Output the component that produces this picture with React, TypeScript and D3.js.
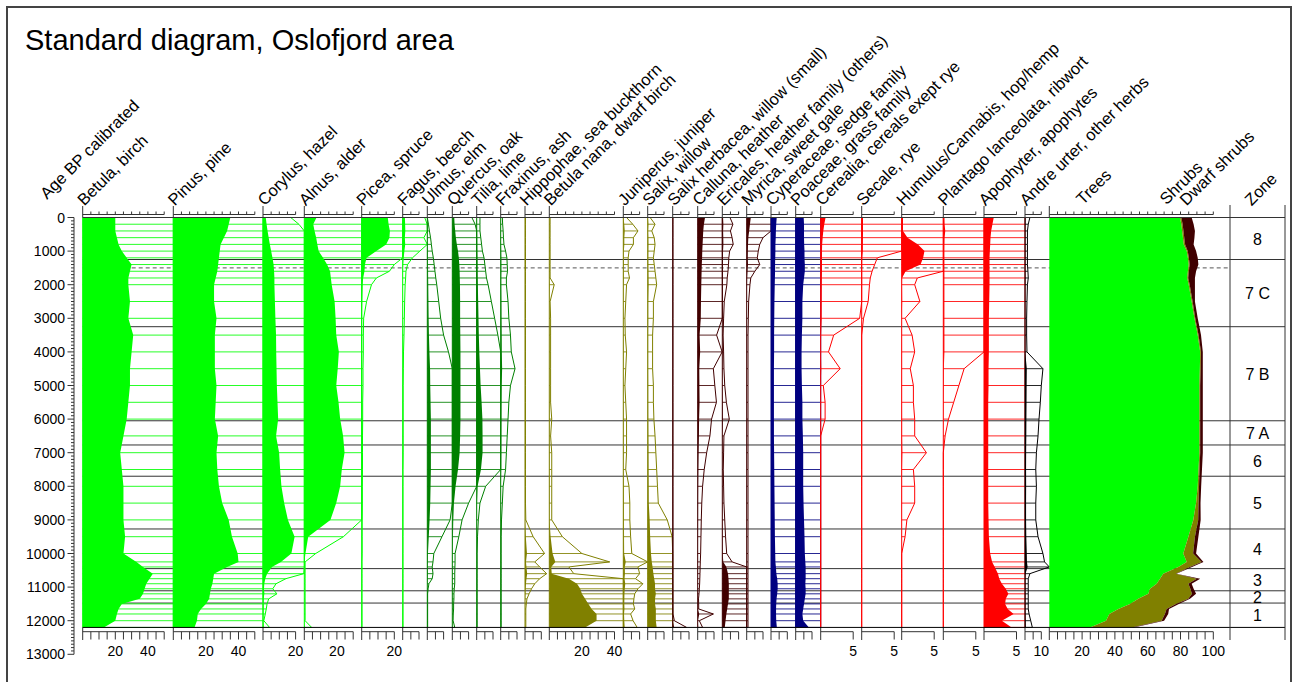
import React from 'react'
import * as d3 from 'd3'

// sample levels, calibrated years BP
const ages = [
  0, 200, 400, 600, 800, 1000, 1200, 1400, 1600, 1800,
  2000, 2500, 3000, 3500, 4000, 4500, 5000, 5500, 6000, 6500,
  7000, 7500, 8000, 8500, 9000, 9500, 10000, 10250, 10400, 10600,
  10750, 10900, 11050, 11200, 11350, 11500, 11650, 11800, 12000, 12200,
]

// pollen percentages per sample
const betula = [
  20, 20, 20, 21, 22, 24, 27, 30, 29, 28,
  28, 29, 28, 31, 30, 29, 29, 28, 27, 25,
  23, 24, 25, 25, 25, 26, 25, 33, 37, 43,
  41, 39, 38, 37, 35, 24, 22, 21, 20, 13,
]
const pinus = [
  35, 34, 33, 31, 29, 28.5, 28, 27.5, 27, 26,
  25, 25, 26.5, 25.5, 25.5, 25.5, 26.5, 26, 25.5, 27.5,
  26.5, 27, 28, 30, 34, 36, 39.5, 40, 33, 25,
  24.5, 24, 23, 22.5, 22, 20, 17, 15, 14.5, 13,
]
const corylus = [
  1.7, 2.2, 2.8, 3.5, 4.2, 5, 5.8, 6.5, 6.8, 7,
  7, 7.3, 7.6, 8, 8.1, 8.3, 8.5, 8.9, 9.3, 8,
  9.9, 10.5, 11.3, 13, 15.3, 19.4, 17.4, 11, 5.5, 2.5,
  1.4, 0.8, 0.6, 0.85, 0.35, 0.25, 0.2, 0.14, 0.05, 0.4,
]
const alnus = [
  7.5, 5.5, 6.3, 7.3, 8, 8.8, 11.5, 14, 15.8, 16.3,
  16.8, 18.6, 19.2, 19.6, 21.2, 20.5, 19.6, 21, 22, 23.8,
  24.7, 23, 22, 19.6, 16, 2.4, 0.7, 0.05, 0.05, 0.05,
  0.05, 0.05, 0.05, 0.05, 0.05, 0.05, 0.05, 0.05, 0.05, 0.45,
]
const picea = [
  16, 16.5, 17.3, 17, 15, 9, 3, 2, 1.7, 0.9,
  0.6, 0.3, 0.12, 0.1, 0.1, 0.08, 0.08, 0.06, 0.06, 0.05,
  0.05, 0.05, 0.04, 0.04, 0.03, 0.03, 0.03, 0.02, 0.02, 0.02,
  0.02, 0.02, 0.02, 0.02, 0.02, 0.02, 0.02, 0.02, 0.02, 0.02,
]
const fagus = [
  1.35, 1.5, 1.6, 1.3, 1.55, 1.05, 0.6, 0.3, 0.2, 0.18,
  0.15, 0.12, 0.1, 0.08, 0.05, 0.04, 0.03, 0.03, 0.03, 0.03,
  0.03, 0.02, 0.02, 0.02, 0.02, 0.02, 0.02, 0.02, 0.02, 0.02,
  0.02, 0.02, 0.02, 0.02, 0.02, 0.02, 0.02, 0.02, 0.02, 0.02,
]
const ulmus = [
  0, 0.07, 0.13, 0.2, 0.25, 0.3, 0.37, 0.42, 0.47, 0.52,
  0.58, 0.7, 0.82, 1.0, 1.3, 1.7, 1.8, 2.0, 2.2, 2.2,
  2.2, 2.2, 2.0, 1.8, 1.4, 0.9, 0.4, 0.35, 0.3, 0.35,
  0.3, 0.1, 0.05, 0.02, 0.02, 0.02, 0.02, 0.02, 0.02, 0.02,
]
const quercus = [
  1.2, 1.4, 1.8, 2.2, 2.8, 3.5, 4, 4.3, 4.5, 4.6,
  4.7, 4.8, 4.8, 4.9, 5, 5, 5, 5, 5, 4.8,
  4.5, 3.5, 2.0, 1.0, 0.6, 0.4, 0.17, 0.17, 0.16, 0.15,
  0.15, 0.15, 0.12, 0.1, 0.1, 0.08, 0.08, 0.06, 0.05, 0.15,
]
const tilia = [
  0.2, 0.2, 0.2, 0.25, 0.3, 0.35, 0.45, 0.5, 0.55, 0.6,
  0.7, 0.9, 1.1, 1.3, 1.6, 2, 2.4, 3, 3.5, 3.6,
  3.6, 2.6, 0.55, 0.2, 0.1, 0.05, 0.03, 0.03, 0.03, 0.03,
  0.03, 0.03, 0.03, 0.03, 0.03, 0.03, 0.03, 0.03, 0.03, 0.03,
]
const fraxinus = [
  0.1, 0.12, 0.15, 0.17, 0.2, 0.3, 0.38, 0.4, 0.42, 0.35,
  0.35, 0.45, 0.5, 0.6, 0.65, 0.88, 0.6, 0.5, 0.45, 0.4,
  0.35, 0.3, 0.15, 0.1, 0.05, 0.03, 0.03, 0.03, 0.03, 0.03,
  0.03, 0.03, 0.03, 0.03, 0.03, 0.03, 0.03, 0.03, 0.03, 0.03,
]
const hippophae = [
  0.03, 0.03, 0.03, 0.03, 0.03, 0.03, 0.03, 0.03, 0.03, 0.03,
  0.03, 0.03, 0.03, 0.03, 0.03, 0.03, 0.03, 0.03, 0.03, 0.03,
  0.03, 0.03, 0.03, 0.03, 0.05, 0.5, 1.2, 0.6, 0.9, 1.33,
  0.9, 0.6, 0.4, 0.25, 0.12, 0.08, 0.05, 0.05, 0.05, 0.05,
]
const betulaNana = [
  0.05, 0.05, 0.05, 0.05, 0.05, 0.05, 0.05, 0.05, 0.05, 0.05,
  0.3, 0.05, 0.08, 0.08, 0.08, 0.08, 0.08, 0.08, 0.15, 0.08,
  0.15, 0.15, 0.15, 0.15, 0.15, 0.8, 2.0, 3.7, 1.2, 1.5,
  12, 17, 19, 20, 22, 24, 26, 29, 29, 22,
]
const juniperus = [
  0.2, 0.58, 0.9, 0.62, 0.62, 0.35, 0.3, 0.3, 0.3, 0.38,
  0.2, 0.15, 0.1, 0.12, 0.2, 0.15, 0.1, 0.15, 0.2, 0.2,
  0.2, 0.15, 0.35, 0.4, 0.4, 0.45, 0.52, 1.5, 0.9, 1.0,
  0.75, 1.2, 0.9, 0.7, 0.65, 0.62, 0.7, 0.45, 0.6, 0.85,
]
const salix = [
  0.15, 0.45, 0.25, 0.4, 0.45, 0.4, 0.35, 0.4, 0.45, 0.5,
  0.55, 0.35, 0.35, 0.3, 0.3, 0.3, 0.35, 0.35, 0.38, 0.45,
  0.5, 0.55, 0.6, 0.65, 1.2, 1.5, 2.0, 2.5, 3, 3.5,
  4, 4.5, 4.5, 5, 4.5, 4.5, 5, 5, 5, 5.5,
]
const salixHerbacea = [
  0.02, 0.02, 0.02, 0.02, 0.02, 0.02, 0.02, 0.02, 0.02, 0.02,
  0.02, 0.02, 0.02, 0.02, 0.02, 0.02, 0.02, 0.02, 0.02, 0.02,
  0.02, 0.02, 0.02, 0.02, 0.02, 0.02, 0.02, 0.02, 0.02, 0.02,
  0.02, 0.02, 0.02, 0.02, 0.02, 0.02, 0.02, 0.02, 0.1, 0.85,
]
const calluna = [
  4.5, 3.8, 3.4, 3.2, 3.0, 2.8, 2.7, 2.5, 2.4, 2.3,
  2.2, 2.0, 1.9, 1.16, 1.5, 0.96, 1.05, 1.15, 0.85, 0.75,
  0.55, 0.4, 0.3, 0.25, 0.22, 0.2, 0.18, 0.16, 0.15, 0.14,
  0.13, 0.12, 0.1, 0.08, 0.05, 0.06, 0.06, 0.96, 0.1, 0.3,
]
const ericales = [
  0.47, 0.65, 0.5, 0.6, 0.67, 0.45, 0.4, 0.38, 0.35, 0.3,
  0.28, 0.12, 0.08, 0.05, 0.08, 0.1, 0.15, 0.25, 0.43, 0.1,
  0.08, 0.06, 0.08, 0.1, 0.15, 0.2, 0.27, 0.6, 2.5, 3.5,
  3.8, 4, 4, 4, 4, 3.5, 3, 2.5, 2.0, 1.5,
]
const myrica = [
  2.5, 2, 1.5, 1.0, 0.8, 0.71, 0.65, 0.8, 0.5, 0.25,
  0.2, 0.12, 0.1, 0.08, 0.08, 0.08, 0.08, 0.08, 0.08, 0.08,
  0.08, 0.08, 0.08, 0.08, 0.08, 0.08, 0.08, 0.08, 0.08, 0.08,
  0.08, 0.08, 0.08, 0.08, 0.08, 0.08, 0.08, 0.08, 0.08, 0.08,
]
const cyperaceae = [
  3.5, 3.2, 3.0, 2.9, 2.7, 2.7, 2.6, 2.5, 2.5, 2.4,
  2.3, 2.1, 2.0, 1.9, 1.9, 1.8, 1.8, 1.8, 1.8, 1.8,
  1.9, 2.0, 2.1, 2.2, 2.3, 2.4, 2.6, 2.7, 3.0, 3.3,
  3.8, 4.1, 4.1, 3.8, 3.4, 3.2, 3.1, 3.1, 3.2, 3.6,
]
const poaceae = [
  4.9, 5.1, 5.1, 5.1, 5.2, 5.4, 5.4, 5.6, 5.6, 5.1,
  4.6, 4.1, 4.1, 3.8, 3.6, 3.6, 3.8, 4.1, 4.1, 4.4,
  4.6, 4.6, 4.6, 4.8, 5.1, 5.4, 5.6, 5.9, 6.1, 6.1,
  6.1, 5.9, 6.1, 6.1, 5.6, 5.1, 4.6, 4.1, 4.6, 8.1,
]
const cerealia = [
  0.75, 0.55, 0.4, 0.3, 0.22, 0.2, 0.2, 0.2, 0.2, 0.18,
  0.17, 0.16, 0.15, 0.05, 0.03, 0.075, 0.01, 0.017, 0.017, 0,
  0, 0, 0, 0, 0, 0, 0, 0, 0, 0,
  0, 0, 0, 0, 0, 0, 0, 0, 0, 0,
]
const secale = [
  0.2, 0.2, 0.2, 0.19, 0.18, 0.17, 0.06, 0.05, 0.04, 0.033,
  0.03, 0.025, 0.007, 0, 0, 0, 0, 0, 0, 0,
  0, 0, 0, 0, 0, 0, 0, 0, 0, 0,
  0, 0, 0, 0, 0, 0, 0, 0, 0, 0,
]
const humulus = [
  0.2, 0.2, 0.2, 0.9, 2.5, 3.5, 3.3, 2.9, 0.6, 0.06,
  0.05, 0.07, 0.013, 0.04, 0.05, 0.033, 0.045, 0.045, 0.05, 0.05,
  0.095, 0.045, 0.05, 0.05, 0.02, 0.013, 0, 0, 0, 0,
  0, 0, 0, 0, 0, 0, 0, 0, 0, 0,
]
const plantago = [
  0.18, 0.2, 0.3, 0.2, 0.18, 0.17, 0.17, 0.17, 0.17, 0.17,
  0.17, 0.17, 0.17, 0.17, 0.17, 0.08, 0.06, 0.04, 0.02, 0.007,
  0, 0, 0, 0, 0, 0, 0, 0, 0, 0,
  0, 0, 0, 0, 0, 0, 0, 0, 0, 0,
]
const apophyter = [
  1.5, 1.3, 1.1, 1.0, 0.95, 0.9, 0.85, 0.85, 0.85, 0.85,
  0.85, 0.8, 0.75, 0.75, 0.75, 0.7, 0.7, 0.65, 0.65, 0.65,
  0.65, 0.65, 0.65, 0.65, 0.7, 0.75, 0.95, 1.25, 1.65, 2.15,
  2.35, 2.75, 3.35, 3.75, 3.35, 3.25, 3.65, 4.55, 2.75, 4.25,
]
const andreUrter = [
  0.3, 0.2, 0.15, 0.15, 0.15, 0.15, 0.15, 0.15, 0.18, 0.2,
  0.15, 0.12, 0.1, 0.1, 0.12, 1.1, 1.0, 0.94, 0.86, 0.8,
  0.7, 0.66, 0.7, 0.66, 0.66, 0.8, 1.1, 1.2, 1.6, 0.3,
  0.2, 0.2, 0.2, 0.2, 0.2, 0.2, 0.2, 0.25, 0.35, 0.45,
]

// summary groups
const trees = [
  79.7, 80.5, 81, 81.5, 82, 83.8, 84.5, 85, 84.5, 84.1,
  85, 86.8, 88.5, 90.5, 92, 91.8, 91.5, 91.5, 91.5, 91.5,
  91.5, 91, 90.5, 89.5, 87.8, 84.8, 81.7, 83.8, 78.7, 69.5,
  67.5, 65.5, 61.4, 60.4, 54.3, 49.2, 42.1, 36.6, 34.6, 24.8,
]
const shrubs = [
  0.8, 0.8, 0.8, 0.8, 0.8, 0.6, 0.6, 0.6, 0.6, 0.6,
  0.6, 0.6, 0.5, 0.5, 0.5, 0.5, 0.5, 0.5, 0.5, 0.5,
  0.5, 0.6, 0.8, 1.5, 3, 4, 6, 9, 7, 7.7,
  22.4, 19.3, 24.6, 26.6, 30.5, 28, 29.4, 33.9, 33.9, 25.4,
]
const dwarfShrubs = [
  6.3, 6.7, 7, 6.2, 5.2, 5.1, 5.4, 5.3, 4.4, 4.1,
  3.2, 1.4, 1.5, 1.5, 1.1, 1.3, 1.6, 1.6, 1.6, 1.6,
  1.6, 1.5, 1.3, 1.2, 1.5, 2.1, 1.8, 1.2, 1.3, 0.4,
  2.1, 2, 2, 2.5, 1, 1.8, 1.5, 2, 1.5, 1.3,
]

const zoneTops = [0, 1250, 3250, 6050, 6770, 7700, 9270, 10450, 11110, 11475]
const zoneNames = ['8', '7 C', '7 B', '7 A', '6', '5', '4', '3', '2', '1']
const coreBottom = 12200
const dashedAge = 1500

const LIME = '#00ff00'
const GREEN = '#008000'
const OLIVE = '#808000'
const MAROON = '#400000'
const NAVY = '#000080'
const RED = '#ff0000'
const AXIS = '#333333'
const FONT = 'Liberation Sans, Arial, Helvetica, sans-serif'
const LABEL_SIZE = 16.5

type Panel = {
  label: string
  values: number[]
  color: string
  x0: number
  max: number
  step: number
  marks: number[]
  unit: number
  exag: number
}

const P = 1.63
const mk = (label: string, values: number[], color: string, x0: number, max = 10, marks: number[] = [], unit = P, exag = 10, step = 5): Panel =>
  ({ label, values, color, x0, max, step, marks, unit, exag })

const panels: Panel[] = [
  mk('Betula, birch', betula, LIME, 82.7, 50, [20, 40]),
  mk('Pinus, pine', pinus, LIME, 173.3, 50, [20, 40]),
  mk('Corylus, hazel', corylus, LIME, 263, 20, [20]),
  mk('Alnus, alder', alnus, LIME, 304.3, 30, [20]),
  mk('Picea, spruce', picea, LIME, 361.7, 20, [20]),
  mk('Fagus, beech', fagus, LIME, 402.7),
  mk('Ulmus, elm', ulmus, GREEN, 427.3),
  mk('Quercus, oak', quercus, GREEN, 452.3),
  mk('Tilia, lime', tilia, GREEN, 476.7),
  mk('Fraxinus, ash', fraxinus, GREEN, 500.7),
  mk('Hippophae, sea buckthorn', hippophae, OLIVE, 525),
  mk('Betula nana, dwarf birch', betulaNana, OLIVE, 549.3, 40, [20, 40]),
  mk('Juniperus, juniper', juniperus, OLIVE, 623.3),
  mk('Salix, willow', salix, OLIVE, 647.7),
  mk('Salix herbacea, willow (small)', salixHerbacea, MAROON, 672.7),
  mk('Calluna, heather', calluna, MAROON, 697.7),
  mk('Ericales, heather family (others)', ericales, MAROON, 722.3),
  mk('Myrica, sweet gale', myrica, MAROON, 746.7),
  mk('Cyperaceae, sedge family', cyperaceae, NAVY, 771),
  mk('Poaceae, grass family', poaceae, NAVY, 795.7),
  mk('Cerealia, cereals exept rye', cerealia, RED, 820.7, 5, [5], 6.5, 40),
  mk('Secale, rye', secale, RED, 861.7, 5, [5], 6.5, 40),
  mk('Humulus/Cannabis, hop/hemp', humulus, RED, 901.7, 5, [5], 6.5, 40),
  mk('Plantago lanceolata, ribwort', plantago, RED, 943.3, 5, [5], 6.5, 40),
  mk('Apophyter, apophytes', apophyter, RED, 984, 5, [5], 6.5, 40),
  mk('Andre urter, other herbs', andreUrter, '#000000', 1025, 10, [10]),
]

const sumX0 = 1049.3
const zoneX0 = 1230
const zoneX1 = 1285

const TOP_SCALE = 214.5
const BOT_SCALE = 631.7

function Scale({ x, max, step, marks, yTop, yBot }: { x: d3.ScaleLinear<number, number>; max: number; step: number; marks: number[]; yTop: number; yBot: number }) {
  const ticks = d3.range(0, max + 1e-6, step)
  return (
    <g stroke={AXIS} strokeWidth={1}>
      <line x1={x(0)} x2={x(max)} y1={TOP_SCALE} y2={TOP_SCALE} />
      <line x1={x(0)} x2={x(0)} y1={206} y2={yTop} />
      {ticks.slice(1).map(t => <line key={'t' + t} x1={x(t)} x2={x(t)} y1={TOP_SCALE - 3} y2={TOP_SCALE} />)}
      <line x1={x(0)} x2={x(max)} y1={BOT_SCALE} y2={BOT_SCALE} />
      <line x1={x(0)} x2={x(0)} y1={yBot} y2={640} />
      {ticks.slice(1).map(t => <line key={'b' + t} x1={x(t)} x2={x(t)} y1={BOT_SCALE} y2={639.5} />)}
      {marks.map(m => (
        <text key={'m' + m} x={x(m)} y={656} textAnchor="middle" fontSize={14} stroke="none" fill="#000" fontFamily={FONT}>{m}</text>
      ))}
    </g>
  )
}

export default function App() {
  const y = d3.scaleLinear().domain([0, 13000]).range([217.5, 654.3])
  const yTop = y(0)
  const yBot = y(coreBottom)
  const xLeft = panels[0].x0

  const sx = d3.scaleLinear().domain([0, 100]).range([sumX0, sumX0 + 164])
  const idx = ages.map((_, i) => i)
  const stack = (lo: (i: number) => number, hi: (i: number) => number) =>
    d3.area<number>().y(i => y(ages[i])).x0(i => sx(lo(i))).x1(i => sx(hi(i)))(idx) || ''

  const zoneBottoms = [...zoneTops.slice(1), coreBottom]

  return (
    <svg width={1298} height={682} style={{ position: 'absolute', left: 0, top: 0, display: 'block', background: '#fff' }} fontFamily={FONT}>
      <rect x={7} y={7} width={1284} height={700} fill="#fff" stroke="#444" strokeWidth={2} />
      <text x={25} y={50} fontSize={29} fill="#000">Standard diagram, Oslofjord area</text>

      {/* zone boundaries under the curves */}
      {zoneTops.slice(1).map(a => (
        <line key={'z' + a} x1={xLeft} x2={zoneX1} y1={y(a)} y2={y(a)} stroke={AXIS} strokeWidth={1} />
      ))}
      <line x1={xLeft} x2={zoneX0} y1={y(dashedAge)} y2={y(dashedAge)} stroke="#555" strokeDasharray="4 3" strokeWidth={1} />

      {panels.map((p, pi) => {
        const clip = pi + 1 < panels.length ? panels[pi + 1].x0 : sumX0
        const x = d3.scaleLinear().domain([0, p.max]).range([p.x0, p.x0 + p.max * p.unit])
        const ex = (v: number) => Math.min(x(v * p.exag), clip)
        const fill = d3.area<number>().y((_, i) => y(ages[i])).x0(p.x0).x1(v => x(v))(p.values) || ''
        const outline = d3.line<number>().x(v => ex(v)).y((_, i) => y(ages[i]))(p.values) || ''
        return (
          <g key={p.label}>
            {p.values.map((v, i) => (
              <line key={i} x1={p.x0} x2={ex(v)} y1={y(ages[i])} y2={y(ages[i])} stroke={p.color} strokeOpacity={0.85} strokeWidth={1} />
            ))}
            <path d={outline} fill="none" stroke={p.color} strokeWidth={1} />
            <path d={fill} fill={p.color} stroke="none" />
            <line x1={p.x0} x2={p.x0} y1={yTop} y2={yBot} stroke={p.color} strokeWidth={1} />
            <Scale x={x} max={p.max} step={p.step} marks={p.marks} yTop={yTop} yBot={yBot} />
            <text transform={`translate(${p.x0 + 1.5},206.5) rotate(-45)`} fontSize={LABEL_SIZE} fill="#000">{p.label}</text>
          </g>
        )
      })}

      {/* summary: trees, shrubs, dwarf shrubs */}
      <path d={stack(() => 0, i => trees[i])} fill={LIME} />
      <path d={stack(i => trees[i], i => trees[i] + shrubs[i])} fill={OLIVE} />
      <path d={stack(i => trees[i] + shrubs[i], i => trees[i] + shrubs[i] + dwarfShrubs[i])} fill={MAROON} />
      <Scale x={sx} max={100} step={5} marks={[20, 40, 60, 80, 100]} yTop={yTop} yBot={yBot} />
      <text transform="translate(1083,205.5) rotate(-45)" fontSize={LABEL_SIZE} fill="#000">Trees</text>
      <text transform="translate(1166.5,205.5) rotate(-45)" fontSize={LABEL_SIZE} fill="#000">Shrubs</text>
      <text transform="translate(1186.5,206.5) rotate(-45)" fontSize={LABEL_SIZE} fill="#000">Dwarf shrubs</text>

      {/* top and bottom of the core */}
      <line x1={xLeft} x2={zoneX1} y1={yTop} y2={yTop} stroke={AXIS} strokeWidth={1} />
      <line x1={xLeft} x2={zoneX1} y1={yBot} y2={yBot} stroke="#000" strokeWidth={1} />

      {/* zone column */}
      <line x1={zoneX0} x2={zoneX0} y1={205} y2={640} stroke={AXIS} />
      <line x1={zoneX1} x2={zoneX1} y1={205} y2={640} stroke={AXIS} />
      <text transform="translate(1251.5,206.5) rotate(-45)" fontSize={LABEL_SIZE} fill="#000">Zone</text>
      {zoneNames.map((z, i) => (
        <text key={z} x={(zoneX0 + zoneX1) / 2} y={(y(zoneTops[i]) + y(zoneBottoms[i])) / 2 + 6} textAnchor="middle" fontSize={16} fill="#000">{z}</text>
      ))}

      {/* age axis */}
      <text transform="translate(47,200) rotate(-45)" fontSize={LABEL_SIZE} fill="#000">Age BP calibrated</text>
      <g stroke={AXIS}>
        <line x1={74} x2={74} y1={y(0)} y2={y(13000)} />
        {d3.range(0, 13001, 100).map(a => (
          <line key={a} x1={a % 1000 === 0 ? 67.5 : 71} x2={74} y1={y(a)} y2={y(a)} />
        ))}
      </g>
      {d3.range(0, 13001, 1000).map(a => (
        <text key={a} x={65} y={y(a) + 5} textAnchor="end" fontSize={14} fill="#000">{a}</text>
      ))}
    </svg>
  )
}
